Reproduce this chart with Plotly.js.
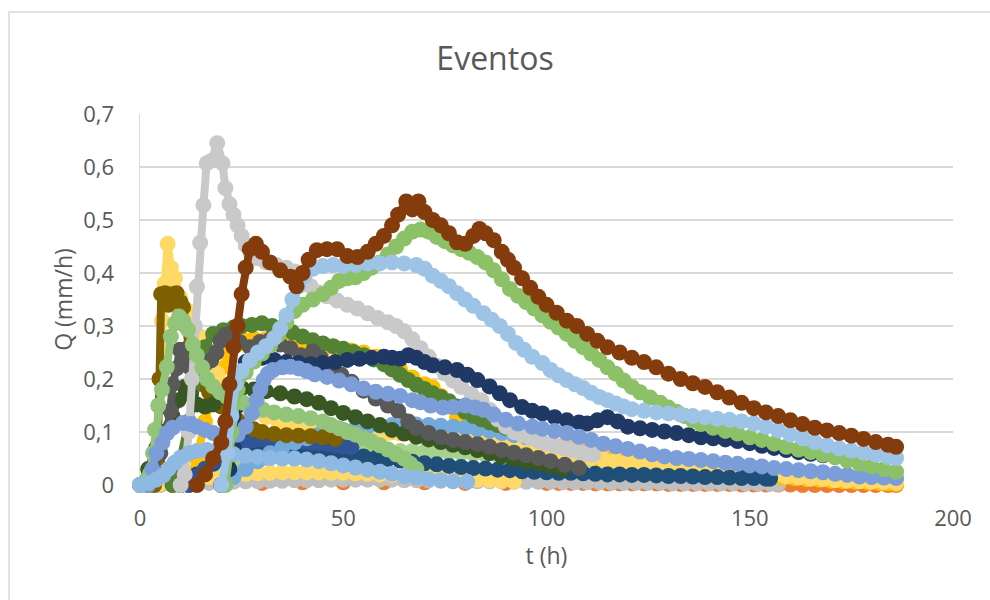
<!DOCTYPE html>
<html>
<head>
<meta charset="utf-8">
<script src="https://cdn.plot.ly/plotly-3.0.1.min.js"></script>
<style>html,body{margin:0;padding:0;background:#fff;}#chart{width:990px;height:600px;}</style>
</head>
<body>
<div id="chart"></div>
<script>
// ---- Data: each series is a list of [t (h), Q (mm/h)] pairs ----
const yTickVals = [0, 0.1, 0.2, 0.3, 0.4, 0.5, 0.6, 0.7];
const yTickText = ["0", "0,1", "0,2", "0,3", "0,4", "0,5", "0,6", "0,7"];
const xTickVals = [0, 50, 100, 150, 200];

const sOrange = [[10,0],[20,0.003],[30,0.004],[40,0.005],[50,0.005],[60,0.005],[70,0.005],[80,0.004],[90,0.004],[100,0.004],[103,0.004],[106,0.004],[109,0.004],[112,0.003],[115,0.003],[118,0.003],[121,0.003],[124,0.003],[127,0.003],[130,0.002],[133,0.002],[136,0.002],[139,0.002],[142,0.002],[145,0.002],[148,0.001],[151,0.001],[154,0.001],[157,0.001],[160,0.001],[163,0],[166,0],[169,0],[172,0],[175,0],[178,0],[181,0],[184,0],[186,0]];
const sGrayLow = [[5,0],[8,0.001],[11,0.002],[14,0.003],[17,0.004],[20,0.005],[23,0.006],[26,0.007],[29,0.007],[32,0.008],[35,0.008],[38,0.009],[41,0.009],[44,0.009],[47,0.01],[50,0.01],[53,0.01],[56,0.01],[59,0.01],[62,0.01],[65,0.009],[68,0.009],[71,0.009],[74,0.008],[77,0.008],[80,0.008],[83,0.007],[86,0.007],[89,0.007],[92,0.006],[95,0.006],[98,0.006],[101,0.006],[104,0.005],[107,0.005],[110,0.005],[113,0.005],[116,0.004],[119,0.004],[122,0.004],[125,0.004],[128,0.004],[131,0.003],[134,0.003],[137,0.003],[140,0.003],[143,0.003],[146,0.003],[149,0.002],[152,0.002],[155,0.002],[157,0.002]];
const sSalmon = [[8,0],[11,0.015],[14,0.03],[17,0.045],[20,0.06],[23,0.07],[26,0.077],[29,0.083],[32,0.087],[35,0.09],[38,0.093],[41,0.095],[44,0.097],[47,0.098],[50,0.099],[53,0.1],[56,0.1],[59,0.1],[62,0.1],[65,0.099],[68,0.098],[71,0.097],[74,0.095],[77,0.093],[80,0.092],[83,0.09],[86,0.088],[89,0.085],[92,0.083],[95,0.081],[98,0.079],[101,0.077],[104,0.075],[107,0.072],[110,0.069],[113,0.065],[116,0.061],[119,0.057],[122,0.053],[125,0.049],[128,0.046],[131,0.043],[134,0.04],[137,0.037],[140,0.035],[143,0.032],[146,0.03],[149,0.028],[152,0.025],[155,0.023],[158,0.021],[161,0.019],[164,0.017],[167,0.015],[170,0.013],[173,0.011],[176,0.01],[179,0.008],[182,0.007],[186,0.006]];
const sGreenLow = [[10,0],[13,0.01],[16,0.018],[19,0.027],[22,0.034],[25,0.041],[28,0.047],[31,0.051],[34,0.055],[37,0.058],[40,0.06],[43,0.062],[46,0.064],[49,0.065],[52,0.065],[55,0.065],[58,0.065],[61,0.065],[64,0.064],[67,0.064],[70,0.063],[73,0.062],[76,0.061],[79,0.06],[82,0.059],[85,0.057],[88,0.056],[91,0.054],[94,0.053],[97,0.051],[100,0.05],[103,0.048],[106,0.047],[109,0.045],[112,0.043],[115,0.041],[118,0.039],[121,0.037],[124,0.035],[127,0.034],[130,0.032],[133,0.03],[136,0.029],[139,0.027],[142,0.026],[145,0.024],[148,0.023],[151,0.021],[154,0.019],[157,0.018],[160,0.016],[163,0.015],[166,0.013],[169,0.012],[172,0.01],[175,0.009],[178,0.008],[181,0.007],[184,0.006],[186,0.005]];
const sGold = [[12,0],[14,0.05],[16,0.12],[18,0.18],[20,0.22],[22,0.248],[24,0.265],[26,0.272],[28,0.276],[31,0.275],[34,0.272],[37,0.268],[40,0.265],[43,0.262],[46,0.26],[49,0.257],[52,0.254],[55,0.25],[58,0.242],[61,0.232],[64,0.218],[67,0.203],[70,0.19],[72,0.184],[74,0.168],[76,0.148],[78,0.127],[80,0.108],[82,0.094],[84,0.088],[87,0.083],[90,0.078],[93,0.074],[96,0.071],[99,0.067],[102,0.063],[105,0.059],[108,0.055],[110,0.053],[113,0.049],[116,0.046],[119,0.043],[122,0.04],[125,0.037],[128,0.035],[131,0.032],[134,0.03],[137,0.028],[140,0.026],[143,0.024],[146,0.022],[149,0.02],[152,0.018],[155,0.016],[158,0.014],[161,0.013],[164,0.011],[167,0.01],[170,0.008],[173,0.007],[176,0.006],[179,0.005],[182,0.004],[184,0.003],[186,0.002]];
const sYellowPeak = [[3,0],[4,0.05],[4.6,0.15],[5.4,0.31],[6.1,0.38],[6.8,0.455],[7.6,0.41],[8.6,0.39],[9.8,0.355],[11.5,0.33],[13,0.305],[14.8,0.28],[16.4,0.255],[17.6,0.23],[19,0.21],[20.5,0.19],[22,0.175],[24,0.16],[26,0.148],[28,0.138],[31,0.128],[34,0.12],[37,0.115],[40,0.111],[43,0.108],[46,0.105],[49,0.103],[52,0.102],[55,0.1],[58,0.099],[61,0.098],[64,0.097],[67,0.097],[70,0.098],[72,0.099],[75,0.1],[78,0.092],[81,0.085],[84,0.08],[87,0.076],[90,0.072],[93,0.069],[96,0.065],[99,0.062],[102,0.059],[105,0.056],[108,0.053],[111,0.051],[114,0.048],[117,0.046],[120,0.043],[123,0.041],[126,0.038],[129,0.036],[132,0.033],[135,0.031],[138,0.029],[141,0.027],[144,0.026],[147,0.024],[150,0.022],[153,0.02],[156,0.018],[159,0.016],[162,0.014],[165,0.012],[168,0.011],[171,0.009],[174,0.008],[177,0.007],[180,0.006],[183,0.005],[186,0.004]];
const sYellowLow = [[2,0],[5,0.003],[8,0.006],[11,0.009],[14,0.012],[17,0.015],[20,0.017],[23,0.019],[26,0.021],[29,0.022],[32,0.023],[35,0.024],[38,0.024],[41,0.024],[44,0.024],[47,0.023],[50,0.023],[53,0.022],[56,0.021],[59,0.02],[62,0.019],[65,0.018],[68,0.017],[71,0.015],[74,0.014],[77,0.012],[80,0.011],[83,0.01],[86,0.009],[89,0.008],[92,0.007]];
const sSteel = [[10,0],[12,0.01],[14,0.02],[16,0.03],[18,0.04],[20,0.05],[22,0.058],[25,0.067],[28,0.073],[31,0.075],[34,0.074],[37,0.071],[40,0.068],[43,0.065],[46,0.062],[49,0.059],[52,0.056],[55,0.054],[58,0.051],[61,0.049],[64,0.046],[67,0.044],[70,0.041],[73,0.039],[76,0.036],[79,0.034],[82,0.032],[85,0.031],[88,0.029],[91,0.028],[94,0.026],[97,0.025],[100,0.024],[103,0.023],[106,0.023],[109,0.022],[112,0.021],[115,0.02],[118,0.02],[121,0.019],[124,0.019],[127,0.018],[130,0.017],[133,0.017],[136,0.016],[139,0.015],[142,0.015],[145,0.014],[148,0.013],[151,0.013],[154,0.012],[155,0.012]];
const sMidBlue = [[12,0],[14,0.015],[16,0.03],[18,0.045],[20,0.06],[22,0.07],[24,0.078],[26,0.082],[28,0.085],[30,0.086],[32,0.086],[34,0.086],[36,0.085],[38,0.084],[40,0.082],[42,0.08],[44,0.079],[46,0.077],[48,0.075],[50,0.073],[52,0.071]];
const sSkyBlue = [[20,0],[23,0.015],[26,0.03],[29,0.045],[32,0.06],[35,0.07],[38,0.08],[41,0.088],[44,0.095],[47,0.1],[50,0.104],[53,0.107],[56,0.11],[59,0.112],[62,0.113],[65,0.114],[68,0.114],[71,0.113],[74,0.112],[77,0.11],[80,0.108],[83,0.105],[86,0.102],[89,0.098],[92,0.094],[95,0.09],[98,0.086]];
const sOlive = [[3.5,0],[4.3,0.05],[4.8,0.2],[5.2,0.36],[6.2,0.362],[7,0.34],[8,0.36],[9,0.362],[10,0.345],[10.6,0.335],[11.3,0.3],[12,0.26],[13,0.235],[14,0.21],[15.5,0.19],[17,0.175],[18.5,0.16],[20,0.148],[22,0.135],[24,0.122],[26,0.112],[28,0.105],[30,0.1],[33,0.096],[36,0.094],[39,0.093],[42,0.092],[45,0.09],[48,0.087]];
const sGreenHump = [[8,0],[10,0.05],[12,0.12],[14,0.2],[16,0.26],[18,0.285],[20.5,0.292],[23,0.297],[25,0.3],[27.5,0.302],[30,0.305],[32.5,0.3],[35,0.295],[37.5,0.288],[40,0.28],[42.5,0.273],[45,0.267],[47.5,0.262],[50,0.257],[52.5,0.251],[55,0.245],[57.5,0.237],[60,0.228],[62,0.218],[64,0.208],[66,0.198],[68,0.189],[70,0.181],[72,0.173],[74,0.166],[76,0.158],[78,0.148],[80,0.138],[82,0.13],[84,0.124],[86,0.118],[88,0.113],[90,0.108],[92,0.103],[94,0.098],[96,0.094]];
const sGreenDark = [[0,0],[2,0.03],[4,0.07],[6,0.1],[8,0.13],[9.5,0.16],[11,0.185],[12.5,0.17],[14,0.152],[16,0.148],[18,0.152],[20,0.165],[22,0.178],[25,0.183],[28,0.18],[31,0.177],[34.5,0.173],[38,0.167],[41,0.162],[44,0.155],[47,0.145],[50,0.136],[53,0.128],[56,0.12],[59,0.113],[62,0.104],[65,0.097],[68,0.091],[71,0.086],[74,0.081],[77,0.076],[80,0.071],[83,0.066],[86,0.06],[89,0.054],[92,0.049],[95,0.044],[98,0.04],[101,0.035],[104,0.03]];
const sDarkGray = [[2,0],[3.3,0.028],[5,0.06],[6.6,0.098],[7.5,0.14],[8,0.19],[9,0.22],[9.8,0.255],[11,0.235],[12.5,0.22],[14.5,0.222],[16,0.228],[17.5,0.235],[18.8,0.25],[19.8,0.272],[21,0.283],[22.5,0.287],[24.5,0.27],[27,0.26],[29.5,0.27],[32,0.274],[34.5,0.265],[37,0.258],[39.5,0.245],[42.5,0.252],[44.5,0.24],[47,0.228],[49.5,0.208],[52,0.195],[55,0.178],[58,0.163],[61,0.15],[63.5,0.14],[66,0.12],[68,0.108],[71,0.098],[74,0.09],[77,0.085],[80,0.081],[83,0.077],[86,0.072],[89,0.066],[92,0.061],[95,0.056],[98,0.051],[101,0.045],[104.5,0.038],[108,0.032]];
const sGrayPeak = [[10,0],[11,0.02],[12,0.1],[12.8,0.2],[13.5,0.3],[14,0.374],[14.8,0.457],[15.6,0.528],[16.4,0.607],[17.6,0.612],[19,0.645],[20.3,0.607],[21,0.56],[22,0.53],[23,0.51],[24,0.49],[25,0.47],[26,0.452],[27.2,0.437],[28.8,0.428],[31,0.42],[33.5,0.415],[36,0.41],[38,0.403],[40,0.39],[42,0.375],[44,0.363],[46,0.356],[48.5,0.348],[51,0.34],[53.5,0.333],[56,0.324],[58.5,0.315],[61,0.307],[63,0.3],[65,0.29],[67,0.275],[69,0.258],[71,0.242],[73,0.225],[75,0.21],[77,0.197],[79,0.185],[81.5,0.172],[84,0.16],[86,0.142],[88,0.124],[90,0.11],[92,0.1],[94,0.094],[96,0.088],[98,0.083],[100,0.078],[102,0.074],[104,0.07],[106,0.066],[108,0.062],[110,0.059],[111.5,0.057]];
const sNavy = [[20,0],[22,0.03],[23,0.07],[24,0.15],[25,0.21],[26,0.232],[28,0.236],[30,0.24],[33,0.236],[36,0.232],[39,0.23],[42,0.228],[45,0.23],[48,0.232],[51,0.236],[54,0.238],[57,0.24],[60,0.242],[62,0.24],[64,0.238],[66,0.245],[68,0.24],[70,0.232],[72,0.226],[75,0.222],[78,0.217],[80.5,0.208],[83,0.198],[86,0.186],[88.5,0.173],[91,0.16],[94,0.147],[96.5,0.14],[99,0.135],[102,0.128],[105,0.122],[108,0.118],[110,0.116],[112.5,0.122],[115,0.128],[117.5,0.12],[120,0.11],[123,0.107],[126,0.104],[129,0.101],[132,0.098],[135,0.094],[138,0.09],[141,0.088],[144,0.086],[147,0.083],[150,0.079],[153,0.074],[156,0.07],[159,0.066],[162,0.062],[165,0.059],[168,0.056]];
const sGreenPeak = [[0,0],[0.8,0.003],[1.7,0.01],[2.5,0.022],[3.2,0.06],[3.7,0.104],[4.5,0.15],[5.4,0.18],[6.6,0.223],[7.6,0.28],[8.6,0.305],[9.6,0.318],[10.6,0.31],[11.8,0.293],[13,0.265],[14,0.245],[15.3,0.222],[16.5,0.2],[18,0.186],[19.7,0.175],[21.4,0.166],[23.4,0.16],[25.4,0.155],[28,0.148],[30.3,0.142],[33,0.137],[36,0.133],[39,0.13],[42,0.126],[45,0.12],[47,0.113],[49,0.107],[51,0.1],[53,0.095],[55,0.088],[57,0.082],[59,0.075],[61,0.067],[63,0.058],[65,0.05],[66.5,0.04],[68,0.03]];
const sPeriwinkle = [[2,0],[3,0.03],[4,0.06],[5.5,0.08],[6.6,0.098],[8,0.108],[10.6,0.117],[12.5,0.115],[14,0.11],[16,0.104],[18,0.098],[20,0.094],[22,0.09],[24,0.095],[26,0.11],[27.5,0.135],[28.7,0.16],[29.6,0.18],[30.4,0.198],[31.5,0.21],[32.7,0.217],[35,0.222],[37,0.223],[39,0.22],[41,0.215],[43,0.209],[46,0.204],[49,0.197],[52,0.19],[55,0.182],[58,0.176],[61,0.172],[64,0.168],[67,0.16],[69,0.156],[71.5,0.15],[74.5,0.146],[77,0.147],[80,0.15],[82.5,0.146],[84.5,0.142],[87,0.133],[90,0.123],[93,0.116],[96.5,0.11],[99,0.106],[102,0.102],[105,0.098],[108,0.091],[111,0.085],[114,0.078],[117,0.073],[120,0.068],[123,0.063],[126,0.058],[129,0.054],[132,0.051],[135,0.049],[138,0.047],[141,0.045],[144,0.042],[147,0.04],[150,0.037],[153,0.035],[156,0.032],[159,0.03],[162,0.028],[165,0.026],[168,0.024],[171,0.021],[174,0.019],[177,0.016],[180,0.015],[183,0.014],[186,0.013]];
const sBlueLow = [[0,0],[2,0.004],[4,0.01],[5.7,0.018],[7,0.03],[8.5,0.042],[10,0.052],[12,0.06],[14,0.064],[16.4,0.066],[18.5,0.064],[20.5,0.061],[23,0.058],[26,0.055],[29,0.053],[32,0.051],[35,0.05],[38,0.05],[41,0.048],[44,0.045],[47,0.041],[50,0.037],[53,0.033],[56,0.029],[59,0.025],[62,0.021],[65,0.017],[68,0.014],[71,0.011],[74,0.009],[77,0.007],[80.5,0.006]];
const sGreen = [[21,0],[22.5,0.1],[24,0.18],[26,0.213],[28,0.233],[30,0.248],[32,0.263],[34,0.283],[36,0.307],[38,0.328],[40,0.34],[42.5,0.35],[45,0.36],[47,0.372],[49,0.385],[51,0.39],[53,0.392],[55,0.4],[57,0.41],[59,0.42],[61,0.435],[63,0.45],[65,0.465],[67,0.478],[69,0.482],[71,0.478],[73,0.468],[75,0.46],[77,0.452],[79,0.445],[81,0.438],[83,0.43],[85,0.42],[87,0.405],[89,0.388],[91,0.37],[93,0.357],[95,0.345],[97,0.333],[99,0.32],[101,0.308],[103,0.297],[105,0.285],[107,0.272],[109,0.26],[111,0.248],[113,0.236],[115,0.222],[117,0.21],[119,0.197],[121,0.185],[123,0.175],[125.5,0.165],[128,0.155],[130,0.146],[132,0.138],[134,0.13],[136,0.122],[138,0.115],[141,0.108],[144,0.102],[147,0.097],[150,0.09],[153,0.085],[156,0.078],[159,0.072],[162,0.067],[165,0.062],[168,0.057],[171,0.052],[174,0.046],[177,0.04],[180,0.035],[183,0.03],[186,0.025]];
const sLightBlue = [[20,0],[21.5,0.06],[22.5,0.13],[23.5,0.19],[25,0.215],[27,0.235],[29,0.25],[31,0.262],[33,0.277],[34.5,0.295],[36,0.32],[37.5,0.35],[39,0.375],[40.5,0.395],[42.5,0.408],[45,0.413],[47.5,0.415],[50,0.413],[53,0.415],[56,0.418],[59,0.418],[62,0.42],[65,0.418],[68,0.415],[70,0.408],[72,0.395],[74,0.385],[76,0.375],[78,0.362],[80,0.35],[82,0.338],[84.5,0.324],[86.5,0.312],[88.5,0.3],[90.5,0.285],[92.5,0.268],[94.5,0.255],[96.5,0.242],[99,0.23],[101,0.217],[103,0.207],[105,0.198],[107,0.19],[109,0.183],[111,0.174],[113,0.166],[115,0.16],[117,0.154],[119,0.148],[121,0.143],[124,0.14],[127,0.137],[130,0.135],[133,0.133],[136,0.13],[139,0.128],[142,0.125],[145,0.123],[148,0.12],[151,0.116],[154,0.11],[157,0.103],[160,0.095],[163,0.088],[166,0.081],[169,0.075],[172,0.069],[175,0.065],[178,0.061],[181,0.057],[184,0.053],[186,0.051]];
const sBrown = [[14,0],[16,0.02],[18,0.05],[20,0.08],[21,0.12],[22,0.19],[23,0.26],[24,0.3],[25,0.36],[26,0.41],[27,0.445],[28.5,0.455],[30,0.44],[32,0.42],[34.5,0.405],[37,0.393],[38.5,0.375],[40,0.4],[41.5,0.425],[43.5,0.443],[46,0.445],[48.5,0.445],[51,0.432],[53.5,0.43],[56,0.44],[58,0.455],[60,0.47],[62,0.49],[63.5,0.51],[65.5,0.535],[67,0.52],[68.5,0.535],[70,0.515],[72,0.5],[74,0.49],[76,0.475],[78,0.458],[80,0.455],[82,0.47],[83.5,0.483],[85,0.475],[87,0.462],[89,0.44],[90.5,0.425],[92,0.41],[94,0.39],[96,0.372],[98,0.355],[100,0.34],[102.5,0.325],[105,0.31],[107.5,0.3],[110,0.285],[112.5,0.272],[115,0.26],[118,0.25],[121,0.24],[124,0.232],[127,0.222],[130,0.21],[133,0.2],[136,0.192],[139,0.185],[142,0.175],[145,0.165],[148,0.155],[151,0.145],[154,0.137],[157,0.13],[160,0.122],[163,0.115],[166,0.108],[169,0.103],[172,0.098],[175,0.093],[178,0.087],[181,0.081],[184,0.076],[186,0.072]];

// draw order (first = bottom) and colours
const seriesList = [
  [sOrange, '#ED7D31'], [sGrayLow, '#BFBFBF'], [sSalmon, '#F4B183'], [sGreenLow, '#A9D18E'],
  [sGold, '#FFC000'], [sYellowPeak, '#FFD966'], [sYellowLow, '#FFD966'], [sSteel, '#1F4E79'],
  [sMidBlue, '#2F5597'], [sSkyBlue, '#74A9DB'], [sOlive, '#7F6000'], [sGreenHump, '#548235'],
  [sGreenDark, '#385723'], [sDarkGray, '#595959'], [sGrayPeak, '#C9C9C9'], [sNavy, '#1F3864'],
  [sGreenPeak, '#92C57A'], [sPeriwinkle, '#7B9ED8'], [sBlueLow, '#8DB9E3'], [sGreen, '#8CC168'],
  [sLightBlue, '#9DC3E6'], [sBrown, '#843C0C']
];

const traces = seriesList.map(([pts, col]) => ({
  type: 'scatter', mode: 'lines+markers',
  x: pts.map(p => p[0]), y: pts.map(p => p[1]),
  line: {color: col, width: 8},
  marker: {color: col, size: 16, line: {width: 0}},
  cliponaxis: false, showlegend: false, hoverinfo: 'skip'
}));

const txt = '#595959';
const grid = '#D9D9D9';
const L = 140, R = 953, T = 114, B = 485;
const pw = R - L, ph = B - T;

const layout = {
  width: 990, height: 600,
  margin: {l: L, r: 990 - R, t: T, b: 600 - B, pad: 0},
  paper_bgcolor: '#fff', plot_bgcolor: '#fff',
  separators: ',.',
  font: {family: '"Open Sans", sans-serif', color: txt},
  title: {text: 'Eventos', font: {size: 32, color: txt}, x: 0.5, xref: 'container', xanchor: 'center',
          y: 1 - 59 / 600, yref: 'container', yanchor: 'middle'},
  xaxis: {
    range: [0, 200], tickvals: xTickVals, ticktext: xTickVals.map(String),
    showgrid: false, zeroline: false, showline: false,
    ticks: 'outside', ticklen: 14, tickcolor: 'rgba(0,0,0,0)',
    tickfont: {size: 22, color: txt}, automargin: false,
    title: {text: 't (h)', font: {size: 23, color: txt}, standoff: 16}
  },
  yaxis: {
    range: [0, 0.7], tickvals: yTickVals, ticktext: yTickText,
    showgrid: true, gridcolor: grid, gridwidth: 1.5,
    zeroline: false, showline: true, linecolor: grid, linewidth: 1.5, layer: 'below traces',
    ticks: 'outside', ticklen: 20, tickcolor: 'rgba(0,0,0,0)',
    tickfont: {size: 22, color: txt}, automargin: false,
    title: {text: 'Q (mm/h)', font: {size: 23, color: txt}, standoff: 4}
  },
  shapes: [{
    type: 'rect', xref: 'paper', yref: 'paper', layer: 'below',
    x0: (9 - L) / pw, x1: (1000 - L) / pw, y0: (B - 610) / ph, y1: (B - 12) / ph,
    line: {color: grid, width: 1.5}, fillcolor: 'rgba(0,0,0,0)'
  }]
};

Plotly.newPlot('chart', traces, layout, {staticPlot: true, displayModeBar: false});
</script>
</body>
</html>
